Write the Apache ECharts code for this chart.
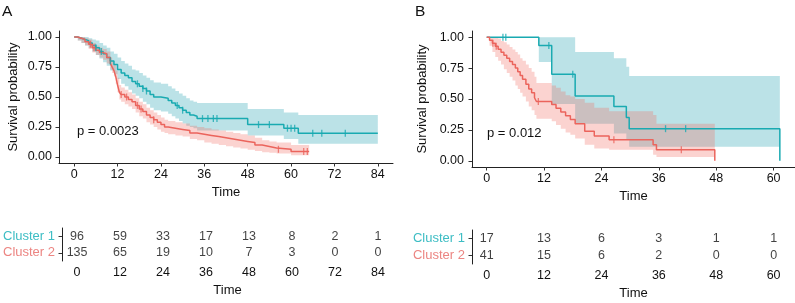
<!DOCTYPE html>
<html>
<head>
<meta charset="utf-8">
<script src="https://cdn.jsdelivr.net/npm/echarts@6/dist/echarts.min.js"></script>
<style>
  html, body { margin: 0; padding: 0; background: #fff; }
  #chart { width: 795px; height: 303px; }
</style>
</head>
<body>
<div id="chart"></div>
<script>
// ---- data ----
// Panel A, Cluster 1 (teal)
const tA1 = [0,1,2,3,4,5,6,7,8,9,10,11,12,13,14,15,16,17,18,19,20,21,22,24,26,27,28,29,30,31,32,33,34,48,58,62];
const sA1 = [1,.99,.98,.97,.95,.93,.91,.88,.86,.83,.80,.77,.73,.70,.68,.66,.63,.61,.59,.57,.55,.52,.50,.49,.47,.45,.43,.41,.39,.37,.35,.34,.32,.27,.24,.197];
const loA1 = [1,.97,.95,.93,.91,.88,.85,.82,.79,.76,.72,.69,.65,.61,.59,.56,.53,.51,.49,.46,.44,.41,.39,.38,.36,.34,.32,.30,.28,.26,.25,.24,.22,.18,.15,.11];
const upA1 = [1,1,1,1,.99,.98,.97,.95,.93,.91,.88,.86,.83,.80,.78,.76,.73,.72,.70,.68,.66,.64,.62,.61,.59,.57,.55,.53,.51,.49,.47,.46,.45,.40,.37,.35];
const endA1 = 84;
const censA1 = [6,7.5,10,17.5,19,20,28.5,30,35.5,37,38.5,39.5,51,54,59,60,61,66,68.5,75];

// Panel A, Cluster 2 (red)
const tA2 = [0,1,2,3,4,5,6,7,8,9,10,10.5,11,11.5,12,12.5,13,14,15,16,17,18,19,20,21,22,23,24,25,26,28,30,32,34,36,38,40,42,44,46,48,50,52,54,56,60];
const sA2 = [1,.99,.98,.96,.94,.91,.89,.87,.86,.83,.78,.75,.72,.67,.60,.54,.52,.50,.48,.46,.43,.40,.38,.35,.33,.31,.29,.27,.25,.24,.23,.22,.20,.19,.18,.17,.16,.15,.14,.13,.12,.10,.088,.075,.064,.045];
const loA2 = [1,.97,.95,.93,.90,.87,.85,.83,.81,.78,.73,.70,.67,.61,.54,.48,.46,.44,.42,.40,.37,.34,.32,.29,.27,.25,.23,.21,.20,.19,.18,.17,.15,.14,.12,.11,.10,.09,.08,.07,.06,.05,.04,.035,.03,.015];
const upA2 = [1,1,1,.99,.98,.95,.93,.91,.90,.88,.83,.80,.77,.72,.66,.60,.58,.56,.54,.52,.49,.46,.44,.41,.39,.37,.35,.33,.31,.30,.29,.28,.26,.25,.24,.23,.22,.21,.20,.19,.18,.16,.14,.13,.12,.10];
const endA2 = 65;
const censA2 = [4.5,5.5,13,14.5,17.5,18.5,22,56.5,63.5,64.5];

// Panel B, Cluster 1 (teal)
const tB1 = [0,10.9,13.6,18.5,26.6,29.2,29.8,61.3];
const sB1 = [1,.933,.70,.525,.44,.35,.26,0];
const loB1 = [1,.80,.46,.30,.22,.17,.113,0];
const upB1 = [1,1,1,.88,.83,.76,.686,0];
const endB1 = 61.3;
const censB1 = [3.4,4.0,13.0,18.0,37.4,41.6];

// Panel B, Cluster 2 (red)
const tB2 = [0,0.6,1.2,1.8,2.4,3,3.6,4.2,4.8,5.4,6,6.5,7,7.5,8.2,8.8,9.4,10,10.4,13.6,14.5,15.5,16.5,17.5,18.5,20.5,22.5,25.6,34.8,35.5,47.7];
const sB2 = [1,.976,.951,.927,.902,.878,.853,.829,.804,.78,.75,.72,.69,.66,.62,.58,.55,.51,.48,.455,.425,.395,.365,.335,.30,.24,.20,.17,.13,.09,0];
const loB2 = [1,.93,.88,.84,.81,.78,.74,.71,.68,.65,.61,.58,.55,.52,.48,.44,.41,.37,.34,.32,.29,.26,.23,.21,.18,.13,.10,.09,.05,.03,0];
const upB2 = [1,1,1,1,.99,.97,.96,.94,.92,.90,.88,.86,.83,.81,.78,.75,.72,.68,.63,.61,.59,.56,.53,.52,.50,.47,.43,.40,.37,.30,0];
const endB2 = 47.7;
const censB2 = [1.3,2.0,10.8,26.6,40.7];

// axis ticks and risk tables
const ticksA = [0,12,24,36,48,60,72,84];
const ticksB = [0,12,24,36,48,60];
const yTicks = [0,0.25,0.5,0.75,1];
const clusters = ['Cluster 2','Cluster 1'];
const riskA1 = [96,59,33,17,13,8,2,1];
const riskA2 = [135,65,19,10,7,3,0,0];
const riskB1 = [17,13,6,3,1,1];
const riskB2 = [41,15,6,2,0,0];

// ---- styling ----
const FONT = '"Liberation Sans", Arial, Helvetica, sans-serif';
const TEAL = '#19AAB1', RED = '#EB645C';
const TEAL_BAND = 'rgba(30,160,175,0.30)', RED_BAND = 'rgba(242,108,98,0.30)';
const TEAL_TXT = '#3DBDC4', RED_TXT = '#EC8582';
const INK = '#111';

function stepAt(t, s, x) {
  let v = s[0];
  for (let i = 0; i < t.length; i++) if (t[i] <= x) v = s[i];
  return v;
}

function band(xi, t, lo, up, end, color) {
  return {
    type: 'custom', xAxisIndex: xi, yAxisIndex: xi, data: [[0, 0]], silent: true, z: 1,
    renderItem: (params, api) => {
      const top = [], bot = [];
      for (let i = 0; i < t.length; i++) {
        const t1 = i < t.length - 1 ? t[i + 1] : end;
        top.push(api.coord([t[i], up[i]]), api.coord([t1, up[i]]));
        bot.push(api.coord([t[i], lo[i]]), api.coord([t1, lo[i]]));
      }
      return { type: 'polygon', shape: { points: top.concat(bot.reverse()) }, style: { fill: color } };
    }
  };
}

function curve(xi, t, s, end, color) {
  const pts = t.map((x, i) => [x, s[i]]);
  pts.push([end, s[s.length - 1]]);
  return {
    type: 'line', xAxisIndex: xi, yAxisIndex: xi, step: 'end', data: pts, silent: true,
    symbol: 'none', z: 3, lineStyle: { color, width: 1.5 }
  };
}

function censor(xi, t, s, c, color) {
  return {
    type: 'scatter', xAxisIndex: xi, yAxisIndex: xi, silent: true, z: 4,
    data: c.map(x => [x, stepAt(t, s, x)]),
    symbol: 'rect', symbolSize: [1.3, 7], itemStyle: { color }
  };
}

function riskRow(xi, ticks, row, counts) {
  return {
    type: 'scatter', xAxisIndex: xi, yAxisIndex: xi, silent: true,
    data: ticks.map((x, i) => [x, row, counts[i]]),
    symbolSize: 1, itemStyle: { color: 'rgba(0,0,0,0)' },
    label: { show: true, position: 'inside', formatter: p => p.value[2],
      color: INK, fontSize: 12.5, fontFamily: FONT }
  };
}

const lineStyle = { color: '#222', width: 1 };
const tickStyle = { color: '#333', width: 1 };

function xAxis(gi, min, max, ticks) {
  return {
    type: 'value', gridIndex: gi, min, max,
    name: 'Time', nameLocation: 'middle', nameGap: 23,
    nameTextStyle: { fontSize: 13, color: INK, fontFamily: FONT },
    axisLine: { onZero: false, lineStyle }, splitLine: { show: false },
    axisTick: { customValues: ticks, length: 3.5, lineStyle: tickStyle },
    axisLabel: { customValues: ticks, margin: 5, fontSize: 12.5, color: INK, fontFamily: FONT }
  };
}

function yAxisPlot(gi, gap, margin) {
  return {
    type: 'value', gridIndex: gi, min: -0.05, max: 1.05,
    name: 'Survival probability', nameLocation: 'middle', nameGap: gap,
    nameTextStyle: { fontSize: 13, color: INK, fontFamily: FONT },
    axisLine: { show: true, onZero: false, lineStyle }, splitLine: { show: false },
    axisTick: { show: true, customValues: yTicks, length: 3.5, lineStyle: tickStyle },
    axisLabel: { customValues: yTicks, margin, fontSize: 12.5, color: INK, fontFamily: FONT,
      formatter: v => v.toFixed(2) }
  };
}

function yAxisTable(gi) {
  return {
    type: 'category', gridIndex: gi, data: clusters,
    axisLine: { show: true, onZero: false, lineStyle },
    axisTick: { show: true, alignWithLabel: true, length: 3.5, lineStyle: tickStyle },
    axisLabel: { interval: 0, margin: 7, fontSize: 13, fontFamily: FONT,
      color: v => (v === 'Cluster 1' ? TEAL_TXT : RED_TXT) }
  };
}

const chart = echarts.init(document.getElementById('chart'), null, { renderer: 'canvas' });

chart.setOption({
  animation: false,
  backgroundColor: '#fff',
  grid: [
    { left: 59, top: 31, width: 334, height: 132 },
    { left: 59, top: 228, width: 334, height: 33 },
    { left: 472, top: 31, width: 330, height: 136 },
    { left: 472, top: 230, width: 330, height: 34 }
  ],
  xAxis: [
    xAxis(0, -4.2, 88.2, ticksA),
    xAxis(1, -4.2, 88.2, ticksA),
    xAxis(2, -3.07, 64.47, ticksB),
    xAxis(3, -3.07, 64.47, ticksB)
  ],
  yAxis: [yAxisPlot(0, 39, 7), yAxisTable(1), yAxisPlot(2, 43, 8), yAxisTable(3)],
  graphic: [
    { type: 'text', left: 2, top: 4, style: { text: 'A', fontSize: 15.5, fill: INK, fontFamily: FONT } },
    { type: 'text', left: 415, top: 4, style: { text: 'B', fontSize: 15.5, fill: INK, fontFamily: FONT } },
    { type: 'text', left: 77, top: 125, style: { text: 'p = 0.0023', fontSize: 13, fill: INK, fontFamily: FONT } },
    { type: 'text', left: 487, top: 127, style: { text: 'p = 0.012', fontSize: 13, fill: INK, fontFamily: FONT } }
  ],
  series: [
    band(0, tA1, loA1, upA1, endA1, TEAL_BAND),
    band(0, tA2, loA2, upA2, endA2, RED_BAND),
    curve(0, tA1, sA1, endA1, TEAL),
    curve(0, tA2, sA2, endA2, RED),
    censor(0, tA1, sA1, censA1, TEAL),
    censor(0, tA2, sA2, censA2, RED),
    riskRow(1, ticksA, 1, riskA1),
    riskRow(1, ticksA, 0, riskA2),
    band(2, tB1, loB1, upB1, endB1, TEAL_BAND),
    band(2, tB2, loB2, upB2, endB2, RED_BAND),
    curve(2, tB1, sB1, endB1, TEAL),
    curve(2, tB2, sB2, endB2, RED),
    censor(2, tB1, sB1, censB1, TEAL),
    censor(2, tB2, sB2, censB2, RED),
    riskRow(3, ticksB, 1, riskB1),
    riskRow(3, ticksB, 0, riskB2)
  ]
});
</script>
</body>
</html>
